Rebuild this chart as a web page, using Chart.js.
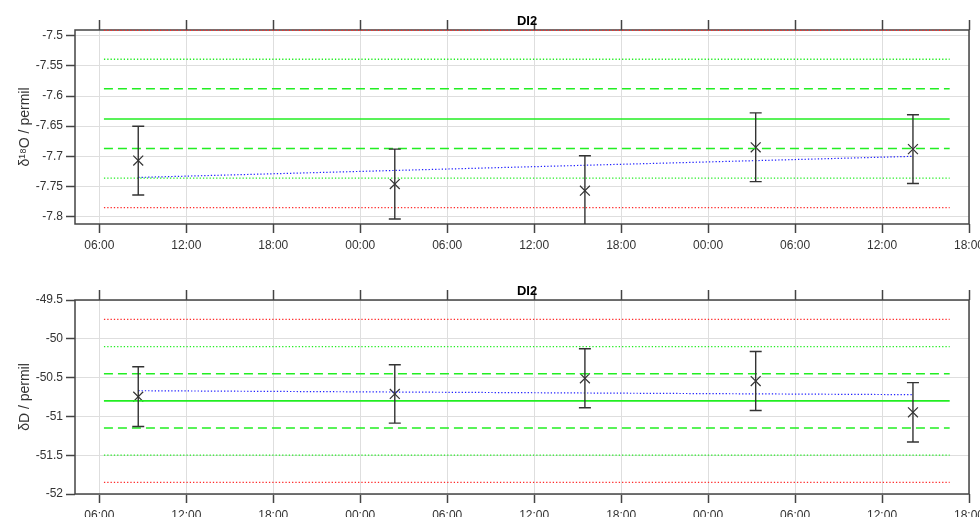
<!DOCTYPE html>
<html><head><meta charset="utf-8">
<script src="https://cdn.jsdelivr.net/npm/chart.js@4.4.0/dist/chart.umd.min.js"></script>
<style>
html,body{margin:0;padding:0;background:#fff;overflow:hidden;width:980px;height:517px;}
.box{position:absolute;left:0;width:980px;height:258px;}
</style></head><body>
<div class="box" style="top:0"><canvas id="c1" width="980" height="258"></canvas></div>
<div class="box" style="top:270px"><canvas id="c2" width="980" height="258"></canvas></div>
<script>
// ---------------- data ----------------
const panelTitle = "DI2";
// "day hh:mm" (day 1 = first day shown)
const sampleTimes = ["1 08:41", "2 02:23", "2 15:30", "3 03:17", "3 14:08"];
const xTickHours = [6, 12, 18, 24, 30, 36, 42, 48, 54, 60, 66];
const refLineStart = "1 06:19";
const refLineEnd = "3 16:40";

const d18O = [-7.707, -7.746, -7.757, -7.685, -7.688];
const d18OErr = [0.057, 0.058, 0.058, 0.057, 0.057];
// +3sd, +2sd, +1sd, mean, -1sd, -2sd, -3sd
const d18OLevels = [-7.491, -7.539, -7.588, -7.638, -7.687, -7.736, -7.785];
const d18OTrend = [-7.735, -7.700];
const d18OTicks = [-7.8, -7.75, -7.7, -7.65, -7.6, -7.55, -7.5];

const dD = [-50.746, -50.711, -50.509, -50.544, -50.947];
const dDErr = [0.385, 0.376, 0.380, 0.380, 0.382];
const dDLevels = [-49.749, -50.10, -50.45, -50.80, -51.15, -51.50, -51.85];
const dDTrend = [-50.669, -50.720];
const dDTicks = [-52, -51.5, -51, -50.5, -50, -49.5];

// ---------------- helpers ----------------
function toHours(s) {
  const [d, t] = s.split(" ");
  const [h, m] = t.split(":").map(Number);
  return (Number(d) - 1) * 24 + h + m / 60;
}
const xs = sampleTimes.map(toHours);
const xStart = toHours(refLineStart), xEnd = toHours(refLineEnd);

const FONT = "'Liberation Sans', Arial, Helvetica, sans-serif";
const GREEN = '#22ee22', RED = '#ff2a2a', BLUE = '#2020ff', DARK = '#333333';
const levelStyles = [
  {c: RED, d: [1.3, 2], w: 1.3},
  {c: GREEN, d: [1.3, 2], w: 1.3},
  {c: GREEN, d: [9, 5], w: 1.6},
  {c: GREEN, d: [], w: 1.6},
  {c: GREEN, d: [9, 5], w: 1.6},
  {c: GREEN, d: [1.3, 2], w: 1.3},
  {c: RED, d: [1.3, 2], w: 1.3},
];

const errorBarPlugin = {
  id: 'errorBars',
  afterDatasetsDraw(chart) {
    const {ctx, chartArea: a} = chart;
    const ys = chart.scales.y;
    chart.data.datasets.forEach((ds, i) => {
      if (!ds.errors) return;
      const meta = chart.getDatasetMeta(i);
      ctx.save();
      ctx.beginPath(); ctx.rect(a.left, a.top, a.right - a.left, a.bottom - a.top); ctx.clip();
      ctx.strokeStyle = DARK; ctx.lineWidth = 1.4;
      meta.data.forEach((pt, j) => {
        const v = ds.data[j].y, e = ds.errors[j];
        const y1 = ys.getPixelForValue(v + e), y2 = ys.getPixelForValue(v - e);
        ctx.beginPath();
        ctx.moveTo(pt.x, y1); ctx.lineTo(pt.x, y2);
        ctx.moveTo(pt.x - 6, y1); ctx.lineTo(pt.x + 6, y1);
        ctx.moveTo(pt.x - 6, y2); ctx.lineTo(pt.x + 6, y2);
        ctx.stroke();
      });
      ctx.restore();
    });
  }
};

const framePlugin = {
  id: 'frame',
  beforeDatasetsDraw(chart) {
    const {ctx, chartArea: a} = chart;
    ctx.save();
    ctx.strokeStyle = '#444'; ctx.lineWidth = 1.5;
    ctx.strokeRect(a.left, a.top, a.right - a.left, a.bottom - a.top);
    ctx.restore();
  },
  afterDraw(chart) {
    const {ctx, chartArea: a} = chart;
    ctx.save();
    ctx.fillStyle = '#000';
    ctx.font = 'bold 13px ' + FONT;
    ctx.textAlign = 'center'; ctx.textBaseline = 'middle';
    ctx.fillText(chart.options.plugins.frame.title, (a.left + a.right) / 2 + 5, a.top - 9);
    ctx.restore();
  }
};

function makeChart(id, vals, errs, levels, trend, ticks, yMin, yMax, yTitle) {
  const datasets = levels.map((lv, k) => ({
    data: [{x: xStart, y: lv}, {x: xEnd, y: lv}],
    showLine: true, pointRadius: 0, borderColor: levelStyles[k].c,
    borderDash: levelStyles[k].d, borderWidth: levelStyles[k].w, clip: 3
  }));
  datasets.push({
    data: [{x: xs[0], y: trend[0]}, {x: xs[xs.length - 1], y: trend[1]}],
    showLine: true, pointRadius: 0, borderColor: BLUE, borderDash: [1.3, 2], borderWidth: 1.2
  });
  datasets.push({
    data: xs.map((x, i) => ({x, y: vals[i]})),
    errors: errs,
    showLine: false, pointStyle: 'crossRot', pointRadius: 7,
    borderColor: DARK, backgroundColor: DARK, pointBorderWidth: 1.2, clip: false
  });
  const xTicksFn = s => { s.ticks = xTickHours.map(v => ({value: v})); };
  return new Chart(document.getElementById(id), {
    type: 'scatter',
    data: {datasets},
    options: {
      responsive: false, animation: false, devicePixelRatio: 1,
      layout: {padding: {left: 0, right: 11, top: 0, bottom: 0}},
      plugins: {legend: {display: false}, tooltip: {enabled: false}, frame: {title: panelTitle}},
      scales: {
        x: {
          type: 'linear', position: 'bottom', min: 4.32, max: 66,
          afterBuildTicks: xTicksFn,
          afterFit: s => { s.height = 34; s.paddingLeft = 0; s.paddingRight = 0; },
          border: {display: false},
          grid: {color: '#dedede', lineWidth: 1, tickColor: '#444', tickLength: 9, tickWidth: 1.5},
          ticks: {padding: 5, maxRotation: 0, autoSkip: false, color: DARK, font: {family: FONT, size: 12},
            callback: v => String(v % 24).padStart(2, '0') + ':00'}
        },
        xTop: {
          type: 'linear', position: 'top', min: 4.32, max: 66,
          afterBuildTicks: xTicksFn,
          afterFit: s => { s.height = 30; s.paddingLeft = 0; s.paddingRight = 0; },
          border: {display: false},
          grid: {drawOnChartArea: false, tickColor: '#444', tickLength: 10, tickWidth: 1.5},
          ticks: {display: false}
        },
        y: {
          type: 'linear', position: 'left', min: yMin, max: yMax,
          afterBuildTicks: s => { s.ticks = ticks.map(v => ({value: v})); },
          afterFit: s => { s.width = 75; s.paddingTop = 0; s.paddingBottom = 0; },
          border: {display: false},
          grid: {color: '#dedede', lineWidth: 1, tickColor: '#444', tickLength: 9, tickWidth: 1.5},
          ticks: {padding: 3, color: DARK, font: {family: FONT, size: 12}, callback: v => String(v)},
          title: {display: true, text: yTitle, color: DARK, font: {family: FONT, size: 14}, padding: {top: 17, bottom: 0}}
        }
      }
    },
    plugins: [errorBarPlugin, framePlugin]
  });
}

makeChart('c1', d18O, d18OErr, d18OLevels, d18OTrend, d18OTicks, -7.8122, -7.4905, 'δ¹⁸O / permil');
makeChart('c2', dD, dDErr, dDLevels, dDTrend, dDTicks, -52, -49.5, 'δD / permil');
</script>
</body></html>
